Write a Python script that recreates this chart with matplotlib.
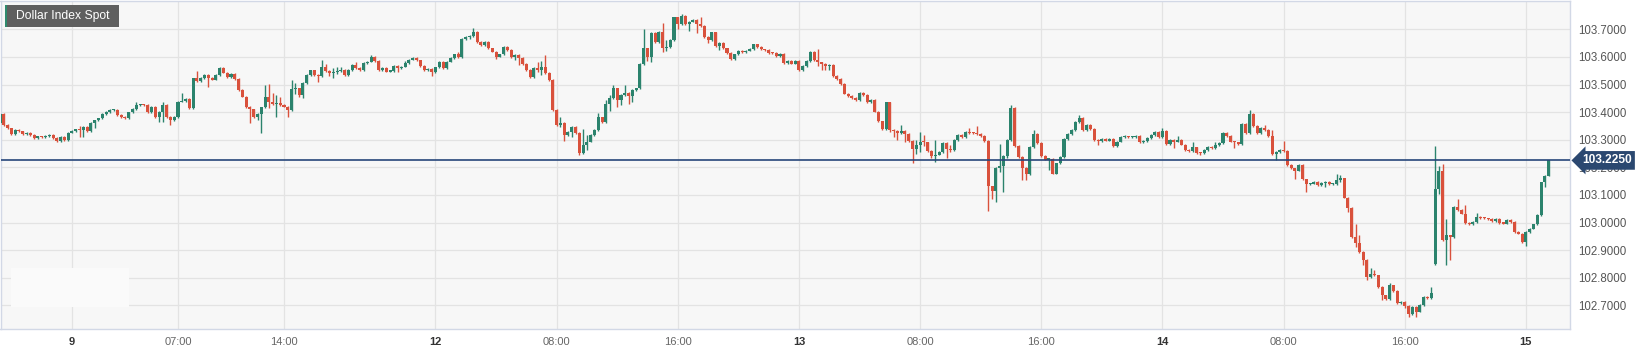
import matplotlib
matplotlib.use("agg")
import matplotlib.pyplot as plt
import numpy as np
from matplotlib.patches import Rectangle

plt.rcParams["font.family"] = ["Liberation Sans", "DejaVu Sans"]

# 15 minute candles, first one Thu 19:15, hours counted from Fri 00:00 (weekend removed)
first_bar_hour = -4.75
first_open = 103.359
closes = [
    103.392, 103.353, 103.341, 103.320, 103.334, 103.330, 103.319, 103.325, 103.317, 103.307,
    103.312, 103.309, 103.314, 103.318, 103.307, 103.296, 103.309, 103.300, 103.326, 103.332,
    103.337, 103.335, 103.347, 103.331, 103.361, 103.370, 103.377, 103.394, 103.401, 103.407,
    103.409, 103.389, 103.382, 103.378, 103.399, 103.411, 103.426, 103.428, 103.425, 103.399,
    103.418, 103.383, 103.401, 103.426, 103.383, 103.371, 103.383, 103.438, 103.440, 103.447,
    103.416, 103.522, 103.513, 103.524, 103.534, 103.524, 103.518, 103.534, 103.561, 103.543,
    103.527, 103.538, 103.520, 103.480, 103.456, 103.419, 103.410, 103.383, 103.393, 103.417,
    103.454, 103.436, 103.430, 103.432, 103.426, 103.420, 103.408, 103.482, 103.486, 103.462,
    103.504, 103.535, 103.551, 103.535, 103.530, 103.562, 103.550, 103.541, 103.544, 103.548,
    103.553, 103.535, 103.553, 103.570, 103.559, 103.553, 103.577, 103.583, 103.600, 103.585,
    103.553, 103.560, 103.547, 103.550, 103.568, 103.559, 103.565, 103.577, 103.590, 103.595,
    103.587, 103.567, 103.553, 103.556, 103.545, 103.562, 103.583, 103.560, 103.583, 103.597,
    103.609, 103.600, 103.664, 103.672, 103.675, 103.690, 103.655, 103.643, 103.655, 103.631,
    103.619, 103.601, 103.609, 103.635, 103.625, 103.599, 103.607, 103.595, 103.575, 103.553,
    103.527, 103.559, 103.552, 103.562, 103.541, 103.516, 103.408, 103.353, 103.362, 103.317,
    103.329, 103.347, 103.324, 103.253, 103.280, 103.293, 103.317, 103.335, 103.381, 103.365,
    103.428, 103.452, 103.486, 103.444, 103.462, 103.470, 103.460, 103.480, 103.486, 103.574,
    103.631, 103.601, 103.686, 103.655, 103.692, 103.631, 103.637, 103.661, 103.743, 103.719,
    103.748, 103.719, 103.728, 103.733, 103.718, 103.712, 103.673, 103.662, 103.689, 103.640,
    103.650, 103.631, 103.615, 103.591, 103.609, 103.621, 103.618, 103.623, 103.628, 103.645,
    103.635, 103.627, 103.624, 103.615, 103.613, 103.604, 103.612, 103.577, 103.585, 103.576,
    103.585, 103.551, 103.566, 103.584, 103.617, 103.588, 103.580, 103.576, 103.568, 103.572,
    103.530, 103.520, 103.502, 103.467, 103.459, 103.451, 103.445, 103.469, 103.463, 103.435,
    103.443, 103.402, 103.366, 103.338, 103.435, 103.335, 103.332, 103.325, 103.333, 103.321,
    103.296, 103.268, 103.280, 103.293, 103.290, 103.260, 103.240, 103.246, 103.256, 103.289,
    103.268, 103.262, 103.299, 103.317, 103.309, 103.329, 103.325, 103.323, 103.320, 103.313,
    103.295, 103.131, 103.114, 103.199, 103.204, 103.240, 103.299, 103.414, 103.277, 103.238,
    103.199, 103.175, 103.274, 103.321, 103.287, 103.240, 103.228, 103.230, 103.177, 103.214,
    103.238, 103.302, 103.321, 103.336, 103.363, 103.379, 103.336, 103.354, 103.338, 103.300,
    103.296, 103.303, 103.297, 103.303, 103.278, 103.293, 103.309, 103.311, 103.308, 103.310,
    103.314, 103.290, 103.296, 103.305, 103.318, 103.327, 103.310, 103.333, 103.285, 103.298,
    103.293, 103.300, 103.282, 103.263, 103.260, 103.272, 103.253, 103.252, 103.263, 103.273,
    103.270, 103.281, 103.287, 103.326, 103.314, 103.293, 103.290, 103.285, 103.358, 103.324,
    103.393, 103.350, 103.324, 103.342, 103.334, 103.314, 103.249, 103.255, 103.262, 103.258,
    103.208, 103.196, 103.188, 103.208, 103.156, 103.139, 103.141, 103.148, 103.135, 103.142,
    103.148, 103.138, 103.140, 103.155, 103.160, 103.090, 103.054, 102.947, 102.925, 102.893,
    102.863, 102.802, 102.812, 102.808, 102.766, 102.736, 102.724, 102.772, 102.752, 102.708,
    102.712, 102.698, 102.669, 102.695, 102.677, 102.701, 102.731, 102.725, 102.746, 103.122,
    103.188, 102.936, 102.953, 102.947, 103.056, 103.046, 103.032, 102.998, 102.993, 103.002,
    103.020, 103.017, 103.015, 103.012, 103.005, 103.014, 102.998, 102.996, 103.010, 103.003,
    102.966, 102.960, 102.930, 102.966, 102.978, 102.993, 103.026, 103.145, 103.170, 103.225,
]
# bar number (from 1) -> open when it does not start at the previous close
gap_opens = {380: 102.849}
# wick lengths beyond the body, in 0.001 (default 3)
upper_wick = {22: 12, 37: 9, 44: 9, 49: 28, 53: 27, 71: 44, 72: 47, 73: 35, 74: 30, 75: 24,
              78: 34, 79: 21, 81: 6, 86: 27, 87: 12, 89: 15, 90: 14, 91: 12, 95: 12, 99: 7,
              108: 7, 122: 10, 125: 4, 126: 14, 143: 24, 144: 24, 145: 45, 149: 22, 155: 58,
              156: 24, 159: 17, 161: 16, 162: 10, 163: 12, 166: 28, 171: 69, 176: 30, 177: 24,
              181: 8, 186: 25, 215: 4, 217: 39, 239: 20, 243: 19, 244: 36, 245: 24, 248: 53,
              252: 12, 257: 12, 259: 27, 265: 80, 268: 12, 274: 14, 286: 12, 298: 7, 308: 9,
              312: 12, 316: 18, 322: 9, 331: 13, 335: 12, 337: 22, 340: 35, 354: 22, 355: 11,
              359: 49, 360: 28, 363: 24, 364: 17, 368: 9, 379: 21, 380: 154, 381: 17, 382: 24,
              383: 61, 386: 30, 388: 30, 391: 14, 410: 2}
lower_wick = {10: 5, 22: 24, 23: 24, 26: 20, 43: 18, 44: 36, 46: 18, 56: 32, 67: 51, 69: 12,
              70: 70, 72: 22, 74: 49, 77: 27, 79: 16, 80: 6, 81: 12, 85: 20, 88: 10, 89: 19,
              90: 6, 106: 15, 115: 16, 125: 8, 132: 10, 137: 10, 138: 24, 143: 5, 144: 17,
              149: 6, 150: 22, 152: 18, 154: 8, 156: 17, 162: 23, 164: 24, 165: 18, 167: 31,
              168: 22, 172: 16, 173: 18, 176: 12, 177: 8, 180: 19, 183: 24, 185: 32, 188: 10,
              191: 15, 217: 14, 218: 25, 219: 17, 220: 17, 236: 6, 237: 21, 238: 26, 240: 28,
              242: 54, 243: 18, 244: 24, 245: 13, 247: 8, 248: 20, 251: 36, 252: 6, 262: 88,
              263: 28, 264: 40, 265: 16, 266: 94, 267: 5, 271: 46, 272: 22, 278: 36, 291: 15,
              311: 24, 318: 8, 327: 21, 338: 22, 343: 32, 346: 30, 351: 13, 355: 8, 357: 16,
              359: 14, 361: 18, 362: 12, 366: 18, 372: 8, 373: 10, 375: 18, 381: 18, 383: 91,
              384: 84, 404: 16, 409: 17}

tick_hours = [0, 7, 14, 24, 32, 40, 48, 56, 64, 72, 80, 88, 96]
tick_labels = ["9", "07:00", "14:00", "12", "08:00", "16:00", "13", "08:00", "16:00",
               "14", "08:00", "16:00", "15"]
day_labels = ["9", "12", "13", "14", "15"]
price_ticks = [102.7, 102.8, 102.9, 103.0, 103.1, 103.2, 103.3, 103.4, 103.5, 103.6, 103.7]
last_price = 103.225
title = "Dollar Index Spot"

closes = np.array(closes)
n = len(closes)
opens = np.r_[first_open, closes[:-1]]
for bar, o in gap_opens.items():
    opens[bar - 1] = o
up = np.full(n, 3.0)
dn = np.full(n, 3.0)
for bar, w in upper_wick.items():
    up[bar - 1] = w
for bar, w in lower_wick.items():
    dn[bar - 1] = w
highs = np.maximum(opens, closes) + up / 1000
lows = np.minimum(opens, closes) - dn / 1000
x = first_bar_hour + 0.25 * np.arange(n)

W, H = 1647, 355
fig = plt.figure(figsize=(W / 100, H / 100), dpi=100)
fig.patch.set_facecolor("white")
ax = fig.add_axes([0.5 / W, 26 / H, 1569.5 / W, 328 / H])
ax.set_facecolor("#f7f7f7")

green, red = "#2b836d", "#d9513c"
colors = np.where(closes >= opens, green, red)
ax.vlines(x, lows, highs, colors=colors, linewidth=1.0, zorder=3)
body = np.maximum(np.abs(closes - opens), 0.004)
ax.bar(x, body, bottom=np.minimum(opens, closes), width=0.2, color=colors,
       linewidth=0, zorder=4)

ax.axhline(last_price, color="#27467a", linewidth=1.2, zorder=5)

ax.set_xlim(-71.5 / 15.15, (1570 - 71.5) / 15.15)
ax.set_ylim(103.7 - 299.7 / 276, 103.7 + 28.3 / 276)

ax.set_axisbelow(True)
ax.grid(True, color="#e3e3e3", linewidth=0.9)
ax.yaxis.tick_right()
ax.set_yticks(price_ticks)
ax.set_yticklabels([f"{v:.4f}" for v in price_ticks])
ax.set_xticks(tick_hours)
ax.set_xticklabels(tick_labels)
ax.tick_params(axis="y", length=0, pad=6, labelsize=8.3, labelcolor="#555555")
ax.tick_params(axis="x", length=0, pad=6, labelsize=8, labelcolor="#666666")
for lab in ax.get_xticklabels():
    if lab.get_text() in day_labels:
        lab.set_fontweight("bold")
        lab.set_color("#333333")
for s in ax.spines.values():
    s.set_color("#d2d8e6")
    s.set_linewidth(1)

# faded logo patch in the lower left corner
ax.add_patch(Rectangle((11 / 1570, 22 / 328), 118 / 1570, 39 / 328, transform=ax.transAxes,
                       facecolor="#fafafa", edgecolor="none", zorder=1))

ax.text(1.0075, last_price, f"{last_price:.4f}", transform=ax.get_yaxis_transform(),
        ha="left", va="center", color="white", fontweight="bold", fontsize=8.6,
        bbox=dict(boxstyle="larrow,pad=0.28", fc="#2b4870", ec="none"),
        zorder=10, clip_on=False)

# title badge
fig.patches.append(Rectangle((5 / W, 1 - 26.7 / H), 114 / W, 21.7 / H, transform=fig.transFigure,
                             facecolor="#5f5f5f", edgecolor="none", zorder=5))
fig.patches.append(Rectangle((5 / W, 1 - 26.7 / H), 2.3 / W, 21.7 / H, transform=fig.transFigure,
                             facecolor="#2e8a6e", edgecolor="none", zorder=6))
fig.text(16 / W, 1 - 16 / H, title, color="white", fontsize=8.7, va="center", ha="left",
         zorder=7)

fig.savefig("out.png", dpi=100, facecolor="white")
